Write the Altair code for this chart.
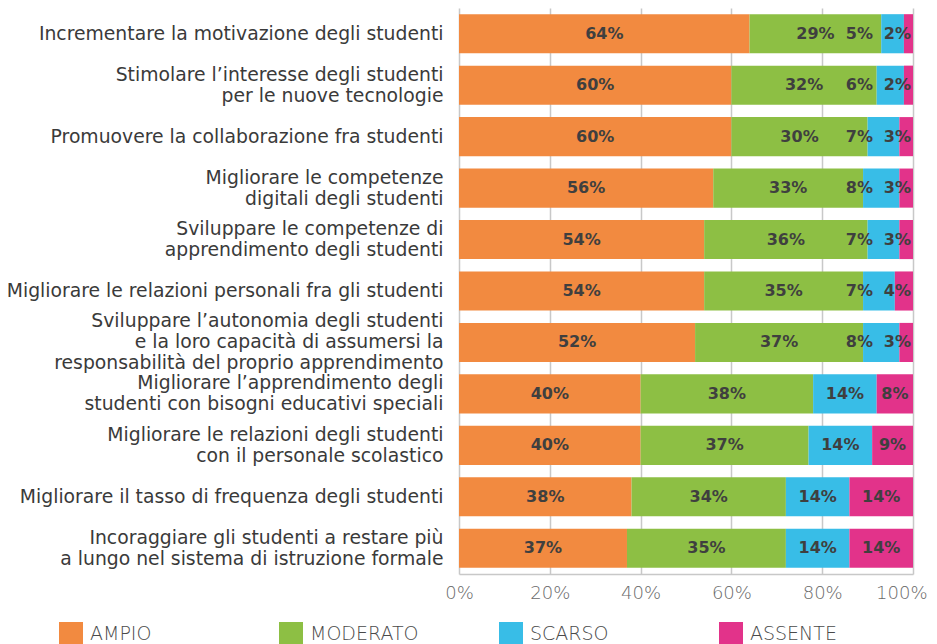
import altair as alt
import pandas as pd

categories = [
    "Incrementare la motivazione degli studenti",
    "Stimolare l’interesse degli studenti|per le nuove tecnologie",
    "Promuovere la collaborazione fra studenti",
    "Migliorare le competenze|digitali degli studenti",
    "Sviluppare le competenze di|apprendimento degli studenti",
    "Migliorare le relazioni personali fra gli studenti",
    "Sviluppare l’autonomia degli studenti|e la loro capacità di assumersi la|responsabilità del proprio apprendimento",
    "Migliorare l’apprendimento degli|studenti con bisogni educativi speciali",
    "Migliorare le relazioni degli studenti|con il personale scolastico",
    "Migliorare il tasso di frequenza degli studenti",
    "Incoraggiare gli studenti a restare più|a lungo nel sistema di istruzione formale",
]
series = ["AMPIO", "MODERATO", "SCARSO", "ASSENTE"]
ampio = [64, 60, 60, 56, 54, 54, 52, 40, 40, 38, 37]
moderato = [29, 32, 30, 33, 36, 35, 37, 38, 37, 34, 35]
scarso = [5, 6, 7, 8, 7, 7, 8, 14, 14, 14, 14]
assente = [2, 2, 3, 3, 3, 4, 3, 8, 9, 14, 14]
colors = ["#F28A40", "#8DBF44", "#38BDE7", "#E2338A"]
x_ticks = [0, 20, 40, 60, 80, 100]

rows = []
for i, cat in enumerate(categories):
    vals = [ampio[i], moderato[i], scarso[i], assente[i]]
    small = assente[i] < 5
    for j, s in enumerate(series):
        rows.append({"cat": cat, "series": s, "order": j, "value": vals[j],
                     "label": f"{vals[j]}%", "small": small})
df = pd.DataFrame(rows)

base = alt.Chart(df)

line_h = 21
label_offset = {
    "condition": [
        {"test": "length(split(datum.value, '|')) == 3", "value": -line_h},
        {"test": "length(split(datum.value, '|')) == 2", "value": -line_h / 2},
    ],
    "value": 0,
}

y_enc = alt.Y("cat:N", sort=categories, title=None,
              scale=alt.Scale(paddingInner=0.24, paddingOuter=0.12),
              axis=alt.Axis(labelExpr="split(datum.label, '|')", labelFontSize=18.8,
                            labelFont="DejaVu Sans", labelColor="#3a3a3a",
                            labelPadding=16, labelLimit=0, labelLineHeight=line_h,
                            labelOffset=label_offset,
                            ticks=False, domain=False))

bars = base.mark_bar().encode(
    x=alt.X("value:Q", stack="zero", title=None,
            scale=alt.Scale(domain=[0, 100], nice=False),
            axis=alt.Axis(values=x_ticks, labelExpr="datum.value + '%'",
                          grid=True, gridColor="#c8c8c8", gridWidth=1.5,
                          domainColor="#c8c8c8", domainWidth=1.5, ticks=False,
                          labelFlush=False,
                          labelAlign={"condition": {"test": "datum.value == 100", "value": "right"},
                                      "value": "center"},
                          labelOffset={"condition": {"test": "datum.value == 100", "value": 14},
                                       "value": 0},
                          labelFontSize=18, labelFont="DejaVu Sans", labelFontWeight=200,
                          labelColor="#6a6a6a", labelPadding=10)),
    y=y_enc,
    color=alt.Color("series:N", sort=series,
                    scale=alt.Scale(domain=series, range=colors),
                    legend=alt.Legend(title=None, orient="none", legendX=-400, legendY=614,
                                      direction="horizontal", columns=4, gridAlign="all",
                                      symbolType="square", symbolSize=576, symbolStrokeWidth=0,
                                      symbolOpacity=1,
                                      labelFontSize=19, labelFont="DejaVu Sans",
                                      labelFontWeight=200, labelColor="#4a4a4a",
                                      labelOffset=7, columnPadding=80)),
    order=alt.Order("order:Q"),
)

stacked = base.transform_stack(
    stack="value", groupby=["cat"], as_=["x0", "x1"],
    sort=[alt.SortField("order", order="ascending")]
).transform_calculate(mid="(datum.x0 + datum.x1) / 2")

text_style = dict(fontSize=16, fontWeight="bold", font="DejaVu Sans", color="#3f3f3f")

normal = stacked.transform_filter(
    "!(datum.small && datum.order >= 2)"
).mark_text(align="center", baseline="middle", **text_style).encode(
    x=alt.X("mid:Q"), y=alt.Y("cat:N", sort=categories), text="label:N")

# small labels anchored to the row end (stack total)
small_scarso = stacked.transform_joinaggregate(
    total="sum(value)", groupby=["cat"]
).transform_filter(
    "datum.small && datum.order == 2"
).mark_text(align="right", baseline="middle", dx=-40, **text_style).encode(
    x=alt.X("total:Q"), y=alt.Y("cat:N", sort=categories), text="label:N")

small_assente = stacked.transform_filter(
    "datum.small && datum.order == 3"
).mark_text(align="right", baseline="middle", dx=-2, **text_style).encode(
    x=alt.X("x1:Q"), y=alt.Y("cat:N", sort=categories), text="label:N")

chart = alt.layer(bars, normal, small_scarso, small_assente).properties(
    width=454, height=566,
    autosize=alt.AutoSizeParams(type="none"),
    padding={"left": 451, "top": 0, "right": 15, "bottom": 70},
).configure_view(stroke=None)

chart.save("out.html", embed_options={"renderer": "svg", "actions": False})
